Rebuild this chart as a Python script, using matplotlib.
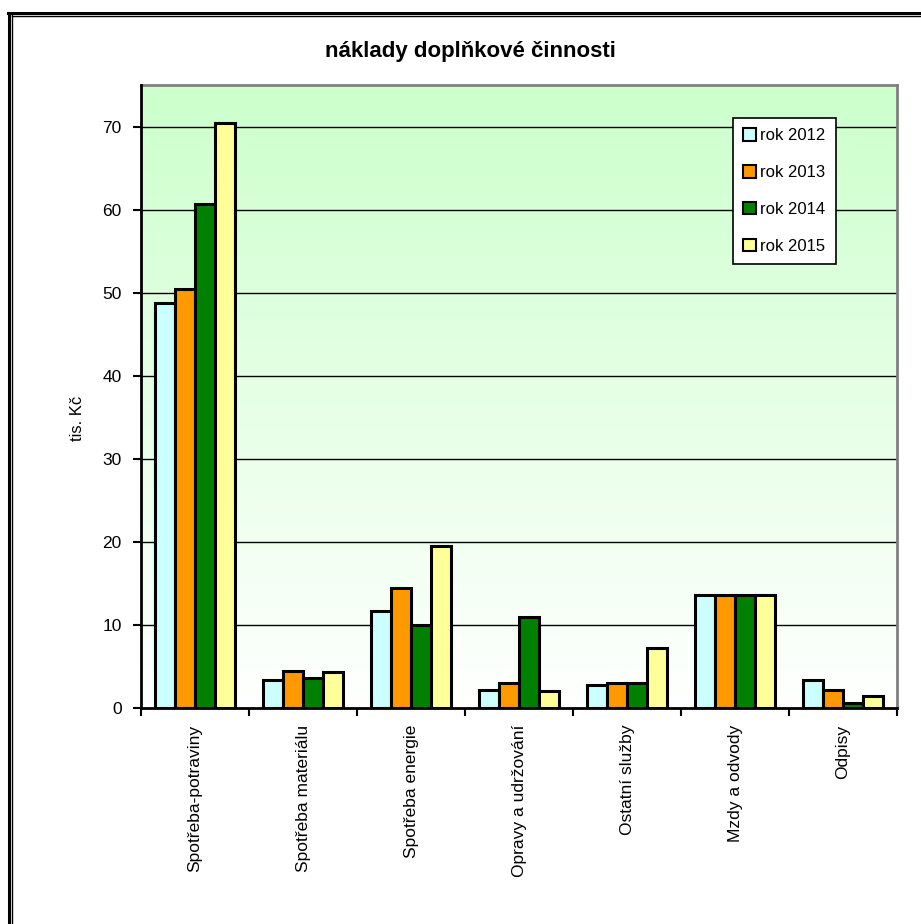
import matplotlib
matplotlib.use("Agg")
import matplotlib.pyplot as plt
import numpy as np

categories = ["Spotřeba-potraviny", "Spotřeba materiálu", "Spotřeba energie",
              "Opravy a udržování", "Ostatní služby", "Mzdy a odvody", "Odpisy"]
series_names = ["rok 2012", "rok 2013", "rok 2014", "rok 2015"]
rok2012 = [48.8, 3.4, 11.7, 2.2, 2.8, 13.6, 3.4]
rok2013 = [50.4, 4.5, 14.4, 3.0, 3.0, 13.6, 2.2]
rok2014 = [60.7, 3.6, 10.0, 10.9, 3.0, 13.6, 0.6]
rok2015 = [70.4, 4.3, 19.5, 2.0, 7.2, 13.6, 1.5]
values = [rok2012, rok2013, rok2014, rok2015]
colors = ["#CCFFFF", "#FF9900", "#008000", "#FFFF99"]
yticks = [0, 10, 20, 30, 40, 50, 60, 70]

plt.rcParams['font.family'] = ['Liberation Sans', 'DejaVu Sans']

fig = plt.figure(figsize=(9.21, 9.24), dpi=100)
W, H = 921, 924

# outer chart frame (double line on left, line on top)
fig.add_artist(plt.Line2D([9/W, 9/W], [0, 1 - 13/H], color="black", lw=2.2, transform=fig.transFigure))
fig.add_artist(plt.Line2D([11.5/W, 11.5/W], [0, 1 - 15/H], color="black", lw=1.0, transform=fig.transFigure))
fig.add_artist(plt.Line2D([8/W, 1], [1 - 13/H, 1 - 13/H], color="black", lw=2.2, transform=fig.transFigure))
fig.add_artist(plt.Line2D([11.5/W, 1], [1 - 15.5/H, 1 - 15.5/H], color="black", lw=1.0, transform=fig.transFigure))

left, right, top, bottom = 141, 897, 85, 708
ax = fig.add_axes([left / W, 1 - bottom / H, (right - left) / W, (bottom - top) / H])

n = len(categories)
ymax = 75
ax.set_xlim(-0.5, n - 0.5)
ax.set_ylim(0, ymax)

# gradient background
grad = np.linspace(0, 1, 256).reshape(-1, 1)
top_c = np.array([0.80, 1.0, 0.80])
bot_c = np.array([1.0, 1.0, 1.0])
img = bot_c + (top_c - bot_c) * grad
ax.imshow(img.reshape(256, 1, 3), extent=[-0.5, n - 0.5, 0, ymax],
          origin="lower", aspect="auto", zorder=0)

ax.set_yticks(yticks)
for y in yticks[1:]:
    ax.axhline(y, color="black", lw=1.0, zorder=1)

x = np.arange(n)
bw = 0.183
for i, (vals, c, name) in enumerate(zip(values, colors, series_names)):
    ax.bar(x + (i - 1.5) * bw, vals, width=bw, color=c, edgecolor="black",
           linewidth=2.2, label=name, zorder=3)

# ticks
ax.set_xticks(np.arange(-0.5, n, 1.0))
ax.set_xticklabels([])
ax.set_xticks(x, minor=True)
ax.set_xticklabels(categories, minor=True, rotation=90, fontsize=12.5, va="top", ha="center")
ax.tick_params(axis="x", which="major", length=6, width=1.5, direction="out", color="black")
ax.tick_params(axis="x", which="minor", length=0, pad=12)
ax.tick_params(axis="y", length=6, width=1.5, direction="out", labelsize=12.5, pad=8)

for s in ["left", "bottom"]:
    ax.spines[s].set_color("black")
    ax.spines[s].set_linewidth(2.0)
for s in ["top", "right"]:
    ax.spines[s].set_color("#808080")
    ax.spines[s].set_linewidth(2.0)
ax.spines["left"].set_zorder(5)
ax.spines["bottom"].set_zorder(5)

ax.set_ylabel("tis. Kč", fontsize=12)
ax.yaxis.set_label_coords((85 - left) / (right - left), (bottom - 418) / (bottom - top))

fig.text(470 / W, 1 - 52 / H, "náklady doplňkové činnosti", ha="center", va="center",
         fontsize=16, fontweight="bold")

leg = ax.legend(loc="upper left", bbox_to_anchor=((733 - left) / (right - left), 1 - (118 - top) / (bottom - top)),
                frameon=True, fancybox=False, fontsize=12, handlelength=0.8, handleheight=0.8,
                handletextpad=0.25, labelspacing=1.3, borderpad=0.6, borderaxespad=0)
leg.get_frame().set_edgecolor("black")
leg.get_frame().set_linewidth(1.2)
leg.get_frame().set_facecolor("white")
leg.get_frame().set_alpha(1)
for h in leg.legend_handles:
    h.set_linewidth(1.5)

fig.savefig("out.png", dpi=100)
